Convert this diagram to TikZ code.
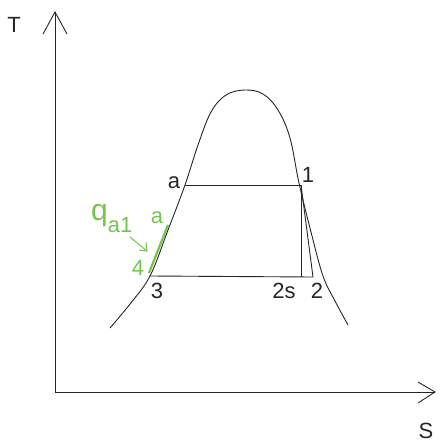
\documentclass[tikz,border=0pt]{standalone}
\usepackage{fontspec}
\setmainfont{Liberation Sans}
\definecolor{grn}{RGB}{118,196,80}
\begin{document}
\begin{tikzpicture}[x=1pt,y=-1pt,
  ln/.style={line width=0.9pt,black!85},
  lbl/.style={font=\fontsize{22}{22}\selectfont,inner sep=0pt,text=black!85},
  glbl/.style={font=\fontsize{22}{22}\selectfont,inner sep=0pt,text=grn}]
\useasboundingbox (0,0) rectangle (440,442);
% axes
\coordinate (O) at (55,392);
\coordinate (Ttip) at (55,12);
\coordinate (Stip) at (435,392);
\draw[ln] (O) -- (Ttip);
\draw[ln] (43,34) -- (Ttip) -- (67,34);
\draw[ln] (O) -- (Stip);
\draw[ln] (418,382) -- (Stip) -- (418,403);
\node[lbl] (T) at (14,25) {T};
\node[lbl] (S) at (426,431) {S};
% dome
\draw[ln] plot[smooth,tension=0.6] coordinates {(110,328) (130,304) (150,276) (168,230) (185,185) (198,145) (211,112) (226,95) (245,90) (263,94) (278,110) (290,138) (299,183) (311,232) (323,276) (335,301) (348,325)};
% points
\coordinate (pa) at (185,185);
\coordinate (p1) at (301,185);
\coordinate (p3) at (150,276);
\coordinate (p2s) at (301,277);
\coordinate (p2) at (313,277);
\draw[ln] (pa) -- (p1);
\draw[ln] (p1) -- (p2s);
\draw[ln] (p1) -- (p2);
\draw[ln] (p3) -- (p2);
% green
\coordinate (g4) at (149,273);
\coordinate (gtop) at (168,225);
\draw[grn,line width=2.2pt] (g4) -- (gtop);
\coordinate (ar1) at (130,237);
\coordinate (ar2) at (147,251);
\draw[grn,line width=1pt] (ar1) -- (ar2);
\draw[grn,line width=1pt] (139,250) -- (ar2) -- (146,242);
% labels
\node[lbl] (la) at (174,183) {a};
\node[lbl] (l1) at (308,175) {1};
\node[lbl] (l3) at (157,291) {3};
\node[lbl] (l2s) at (284,291) {2s};
\node[lbl] (l2) at (317,291) {2};
\node[glbl] (l4) at (138,268) {4};
\node[glbl,anchor=base west] (lq) at (91,220) {\fontsize{30}{30}\selectfont q\fontsize{22}{22}\selectfont\raisebox{-12pt}{a1}};
\node[glbl] (lga) at (157,218) {a};
\end{tikzpicture}
\end{document}
